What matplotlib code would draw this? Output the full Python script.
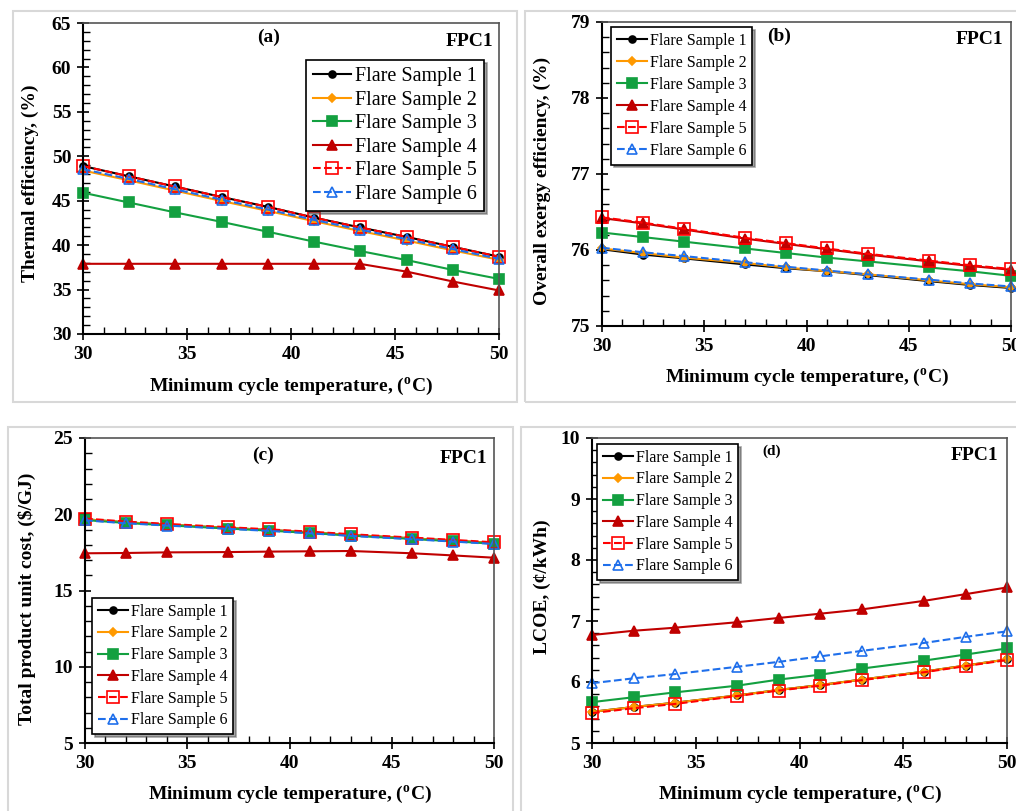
import matplotlib
matplotlib.use('Agg')
import matplotlib.pyplot as plt
from matplotlib.patches import Rectangle
from matplotlib.ticker import MultipleLocator

plt.rcParams['font.family'] = ['Liberation Serif', 'DejaVu Serif']
plt.rcParams['font.weight'] = 'bold'
plt.rcParams['axes.labelweight'] = 'bold'
plt.rcParams['mathtext.fontset'] = 'custom'
plt.rcParams['mathtext.rm'] = 'Liberation Serif'
plt.rcParams['mathtext.bf'] = 'Liberation Serif:bold'

labels = ["Flare Sample 1", "Flare Sample 2", "Flare Sample 3",
          "Flare Sample 4", "Flare Sample 5", "Flare Sample 6"]

# panel (a) temperatures are evenly spaced, the others are not
temp_a = [30, 32.2, 34.4, 36.7, 38.9, 41.1, 43.3, 45.6, 47.8, 50]
temp = [30, 32, 34, 37, 39, 41, 43, 46, 48, 50]

# (a) thermal efficiency, %
eff_1 = [48.9, 47.75, 46.6, 45.4, 44.3, 43.1, 42.0, 40.9, 39.8, 38.7]
eff_2 = [48.4, 47.3, 46.15, 44.95, 43.85, 42.7, 41.6, 40.5, 39.4, 38.35]
eff_3 = [45.9, 44.8, 43.7, 42.6, 41.5, 40.4, 39.35, 38.3, 37.2, 36.2]
eff_4 = [37.9, 37.9, 37.9, 37.9, 37.9, 37.9, 37.9, 37.0, 35.9, 34.9]
eff_5 = [48.9, 47.75, 46.6, 45.4, 44.3, 43.1, 42.0, 40.9, 39.8, 38.7]
eff_6 = [48.55, 47.45, 46.3, 45.1, 44.0, 42.85, 41.75, 40.65, 39.55, 38.45]

# (b) overall exergy efficiency, %
exe_1 = [76.01, 75.94, 75.89, 75.81, 75.76, 75.72, 75.67, 75.59, 75.54, 75.50]
exe_2 = [76.02, 75.96, 75.90, 75.83, 75.77, 75.72, 75.68, 75.60, 75.55, 75.51]
exe_3 = [76.23, 76.17, 76.11, 76.02, 75.96, 75.90, 75.85, 75.77, 75.72, 75.66]
exe_4 = [76.42, 76.35, 76.27, 76.15, 76.08, 76.01, 75.94, 75.85, 75.79, 75.74]
exe_5 = [76.43, 76.36, 76.28, 76.16, 76.09, 76.02, 75.95, 75.86, 75.80, 75.75]
exe_6 = [76.03, 75.97, 75.92, 75.84, 75.78, 75.73, 75.68, 75.61, 75.56, 75.52]

# (c) total product unit cost, $/GJ
cost_1 = [19.67, 19.47, 19.32, 19.10, 18.97, 18.81, 18.64, 18.42, 18.27, 18.11]
cost_2 = [19.67, 19.47, 19.32, 19.10, 18.97, 18.81, 18.64, 18.42, 18.27, 18.11]
cost_3 = [19.62, 19.43, 19.28, 19.06, 18.93, 18.77, 18.60, 18.38, 18.23, 18.07]
cost_4 = [17.44, 17.46, 17.50, 17.52, 17.55, 17.57, 17.59, 17.44, 17.30, 17.15]
cost_5 = [19.72, 19.52, 19.37, 19.15, 19.01, 18.86, 18.69, 18.47, 18.32, 18.16]
cost_6 = [19.60, 19.41, 19.26, 19.04, 18.91, 18.75, 18.58, 18.36, 18.21, 18.05]

# (d) LCOE, cents/kWh
lcoe_1 = [5.51, 5.59, 5.66, 5.78, 5.87, 5.95, 6.04, 6.17, 6.27, 6.37]
lcoe_2 = [5.51, 5.59, 5.66, 5.78, 5.87, 5.95, 6.04, 6.17, 6.27, 6.37]
lcoe_3 = [5.67, 5.75, 5.83, 5.94, 6.04, 6.12, 6.22, 6.35, 6.45, 6.55]
lcoe_4 = [6.77, 6.84, 6.89, 6.98, 7.05, 7.12, 7.19, 7.33, 7.44, 7.55]
lcoe_5 = [5.49, 5.57, 5.64, 5.77, 5.86, 5.94, 6.03, 6.16, 6.26, 6.36]
lcoe_6 = [5.98, 6.06, 6.13, 6.25, 6.33, 6.42, 6.51, 6.64, 6.74, 6.83]

styles = [
    dict(color='black', ls='-', marker='o', ms=5, mfc='black', mec='black'),
    dict(color='#FF9900', ls='-', marker='D', ms=4, mfc='#FF9900', mec='#FF9900'),
    dict(color='#13A040', ls='-', marker='s', ms=7, mfc='#13A040', mec='#13A040'),
    dict(color='#C00000', ls='-', marker='^', ms=7, mfc='#C00000', mec='#C00000'),
    dict(color='#FF0000', ls='--', marker='s', ms=8, mfc='none', mec='#FF0000'),
    dict(color='#1F6FEB', ls='--', marker='^', ms=7, mfc='none', mec='#1F6FEB'),
]

W, H = 1016, 811
fig = plt.figure(figsize=(W / 100, H / 100), dpi=100)

# light gray panel frames (pixel boxes: x0, y0, x1, y1 from top-left)
for x0, y0, x1, y1 in [(13, 11, 517, 402), (525, 11, 1030, 402),
                       (8, 427, 513, 830), (521, 427, 1030, 830)]:
    fig.add_artist(Rectangle((x0 / W, 1 - y1 / H), (x1 - x0) / W, (y1 - y0) / H,
                             transform=fig.transFigure, fill=False,
                             edgecolor='#d8d8d8', lw=1.5, clip_on=False))


def px_axes(l, t, r, b):
    return fig.add_axes([l / W, 1 - b / H, (r - l) / W, (b - t) / H])


panels = [
    dict(rect=(83, 23, 499, 334), x=temp_a, ys=[eff_1, eff_2, eff_3, eff_4, eff_5, eff_6],
         ylim=(30, 65), major=5, minor=1, ylabel='Thermal efficiency, (%)',
         tag='(a)', tag_pos=(0.445, 0.955), tag_size=14, fpc_pos=(0.986, 0.942),
         leg=(306, 60), leg_size=14.5, leg_sp=0.22, xl=-0.170, yl=(-0.127, 0.485)),
    dict(rect=(602, 22, 1011, 326), x=temp, ys=[exe_1, exe_2, exe_3, exe_4, exe_5, exe_6],
         ylim=(75, 79), major=1, minor=0.2, ylabel='Overall exergy efficiency, (%)',
         tag='(b)', tag_pos=(0.433, 0.954), tag_size=14, fpc_pos=(0.98, 0.941),
         leg=(611, 27), leg_size=11.5, leg_sp=0.38, xl=-0.171, yl=(-0.147, 0.477)),
    dict(rect=(85, 438, 494, 743), x=temp, ys=[cost_1, cost_2, cost_3, cost_4, cost_5, cost_6],
         ylim=(5, 25), major=5, minor=1, ylabel='Total product unit cost, ($/GJ)',
         tag='(c)', tag_pos=(0.435, 0.944), tag_size=14, fpc_pos=(0.983, 0.934),
         leg=(92, 598), leg_size=11.5, leg_sp=0.36, xl=-0.170, yl=(-0.142, 0.472)),
    dict(rect=(592, 438, 1007, 743), x=temp, ys=[lcoe_1, lcoe_2, lcoe_3, lcoe_4, lcoe_5, lcoe_6],
         ylim=(5, 10), major=1, minor=0.2, ylabel='LCOE, (¢/kWh)',
         tag='(d)', tag_pos=(0.434, 0.957), tag_size=11, fpc_pos=(0.978, 0.944),
         leg=(597, 444), leg_size=11.5, leg_sp=0.36, xl=-0.170, yl=(-0.120, 0.511)),
]

for p in panels:
    ax = px_axes(*p['rect'])
    for y, lab, st in zip(p['ys'], labels, styles):
        ax.plot(p['x'], y, label=lab, lw=1.5, mew=1.2, clip_on=False, **st)

    ax.set_xlim(30, 50)
    ax.set_ylim(*p['ylim'])
    ax.xaxis.set_major_locator(MultipleLocator(5))
    ax.xaxis.set_minor_locator(MultipleLocator(1))
    ax.yaxis.set_major_locator(MultipleLocator(p['major']))
    ax.yaxis.set_minor_locator(MultipleLocator(p['minor']))
    ax.tick_params(which='major', direction='inout', length=9, width=1.2,
                   labelsize=14, pad=4)
    ax.tick_params(which='minor', direction='in', length=5, width=1.0)
    for s in ['left', 'bottom']:
        ax.spines[s].set_linewidth(1.5)
        ax.spines[s].set_color('black')
    for s in ['top', 'right']:
        ax.spines[s].set_linewidth(1.2)
        ax.spines[s].set_color('#555555')

    ax.set_xlabel(r'Minimum cycle temperature, ($^{\mathbf{o}}$C)', fontsize=14,
                  va='center')
    ax.xaxis.set_label_coords(0.5, p['xl'])
    ax.set_ylabel(p['ylabel'], fontsize=14, va='center')
    ax.yaxis.set_label_coords(*p['yl'])

    ax.text(*p['tag_pos'], p['tag'], transform=ax.transAxes, ha='center',
            va='center', fontsize=p['tag_size'], fontweight='bold')
    ax.text(*p['fpc_pos'], 'FPC1', transform=ax.transAxes, ha='right',
            va='center', fontsize=14, fontweight='bold')

    lx, ly = p['leg']
    leg = ax.legend(loc='upper left', bbox_to_anchor=(lx / W, 1 - ly / H),
                    bbox_transform=fig.transFigure, borderaxespad=0,
                    prop={'weight': 'normal', 'size': p['leg_size']},
                    fancybox=False, shadow=True, edgecolor='black',
                    framealpha=1, handlelength=1.9, handletextpad=0.2,
                    labelspacing=p['leg_sp'], borderpad=0.35)
    leg.get_frame().set_linewidth(1.2)

fig.savefig('out.png', dpi=100)
plt.close(fig)
